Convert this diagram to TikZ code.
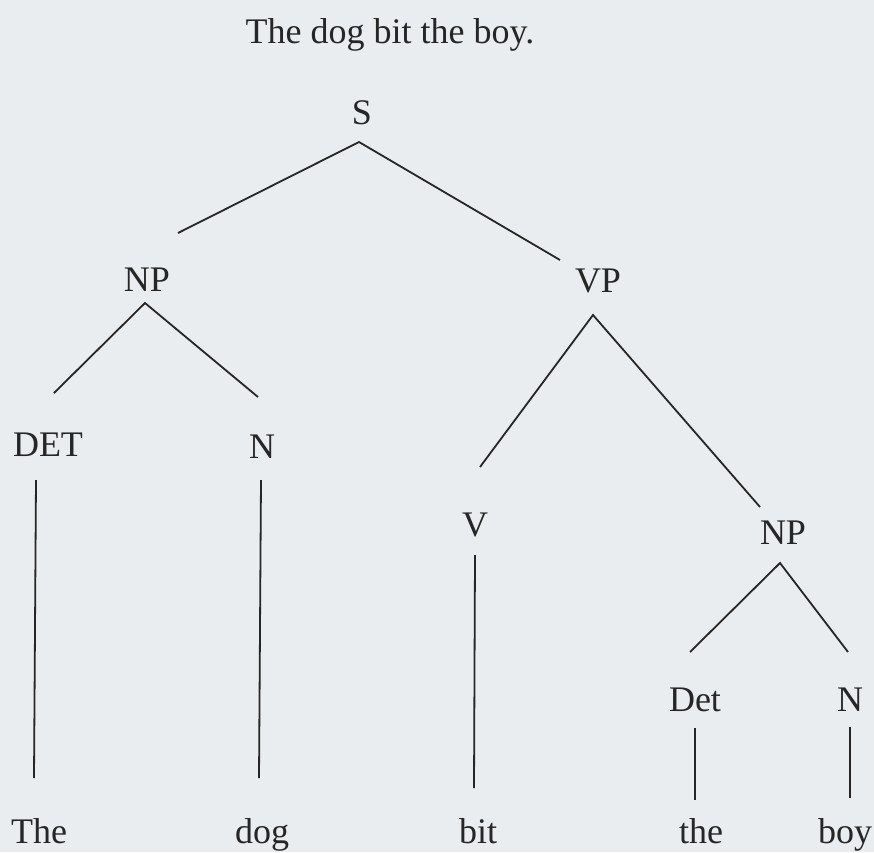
\documentclass[tikz,border=0pt]{standalone}
\usepackage{fontspec}
\setmainfont{Liberation Serif}
\definecolor{paper}{HTML}{E9EDEF}
\definecolor{ink}{HTML}{262626}
\begin{document}
\begin{tikzpicture}[x=1pt,y=-1pt,
  lbl/.style={inner sep=0pt,text=ink,font=\fontsize{36}{42}\selectfont},
  edge/.style={draw=ink,line width=1.8pt}]
\fill[paper] (0,0) rectangle (874,852);
\useasboundingbox (0,0) rectangle (874,852);
% labels
\node[lbl,font=\fontsize{36}{42}\selectfont] (title) at (390,35) {The dog bit the boy.};
\node[lbl] (S)   at (362,113) {S};
\node[lbl] (NPa) at (147,280) {NP};
\node[lbl] (VP)  at (598,281) {VP};
\node[lbl] (DETa) at (48,445) {DET};
\node[lbl] (Na)  at (262,447) {N};
\node[lbl] (V)   at (475,525) {V};
\node[lbl] (NPb) at (783,533) {NP};
\node[lbl] (Detb) at (695,700) {Det};
\node[lbl] (Nb)  at (850,700) {N};
\node[lbl,anchor=base] (w1) at (39,843) {The};
\node[lbl,anchor=base] (w2) at (262,843) {dog};
\node[lbl,anchor=base] (w3) at (478,843) {bit};
\node[lbl,anchor=base] (w4) at (701,843) {the};
\node[lbl,anchor=base] (w5) at (845,843) {boy};
% line end points
\coordinate (S-b) at (359,142);
\coordinate (NPa-t) at (178,233);
\coordinate (VP-t) at (560,260);
\coordinate (NPa-b) at (145,303);
\coordinate (DETa-t) at (54,393);
\coordinate (Na-t) at (258,397);
\coordinate (VP-b) at (593,315);
\coordinate (V-t) at (480,467);
\coordinate (NPb-t) at (760,507);
\coordinate (NPb-b) at (780,563);
\coordinate (Detb-t) at (690,652);
\coordinate (Nb-t) at (848,652);
\coordinate (DETa-b) at (36,480);
\coordinate (w1-t) at (34,778);
\coordinate (Na-b) at (261,480);
\coordinate (w2-t) at (259,778);
\coordinate (V-b) at (475,555);
\coordinate (w3-t) at (474,788);
\coordinate (Detb-b) at (695,728);
\coordinate (w4-t) at (695,800);
\coordinate (Nb-b) at (850,727);
\coordinate (w5-t) at (850,798);
% edges
\draw[edge] (NPa-t) -- (S-b) -- (VP-t);
\draw[edge] (DETa-t) -- (NPa-b) -- (Na-t);
\draw[edge] (V-t) -- (VP-b) -- (NPb-t);
\draw[edge] (Detb-t) -- (NPb-b) -- (Nb-t);
\draw[edge] (DETa-b) -- (w1-t);
\draw[edge] (Na-b) -- (w2-t);
\draw[edge] (V-b) -- (w3-t);
\draw[edge] (Detb-b) -- (w4-t);
\draw[edge] (Nb-b) -- (w5-t);
\end{tikzpicture}
\end{document}
